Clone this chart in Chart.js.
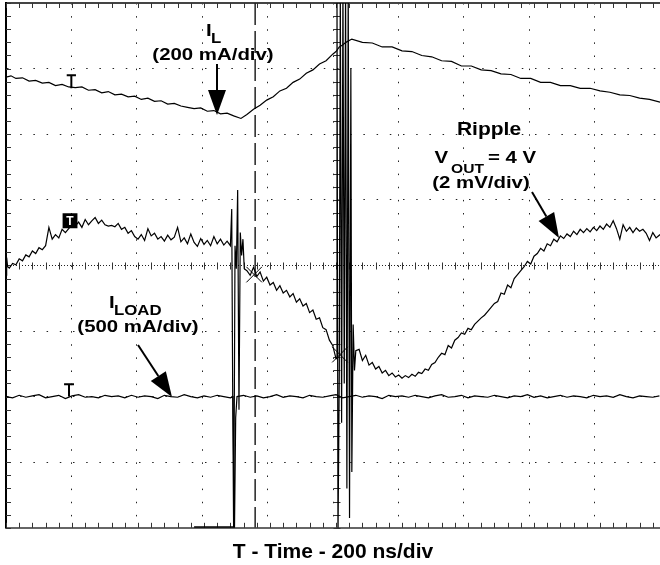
<!DOCTYPE html>
<html>
<head>
<meta charset="utf-8">
<title>Load transient - ripple</title>
<script src="https://cdn.jsdelivr.net/npm/chart.js@4.4.1/dist/chart.umd.min.js"></script>
<style>
  html, body { margin: 0; padding: 0; background: #fff; overflow: hidden; }
</style>
</head>
<body>
<canvas id="scope" width="660" height="565"></canvas>
<script>
/* ---------------------------------------------
   Scope capture: x in ns (200 ns/div), y in screen divisions (0 = bottom, 8 = top)
   --------------------------------------------- */

// I_L (200 mA/div)
const ilNs = [
  0, 15, 30, 50, 70, 90, 110, 130, 150, 170,
  190, 210, 230, 250, 270, 290, 310, 330, 350, 370,
  390, 410, 430, 450, 470, 490, 510, 530, 550, 570,
  590, 610, 630, 650, 670, 690, 712,
  730, 750, 770, 790, 810, 830, 850, 870, 890, 910,
  930, 950, 970, 990, 1000, 1010, 1020, 1030, 1048,
  1080, 1110, 1140, 1170, 1200, 1230, 1260, 1290, 1320, 1350,
  1380, 1410, 1440, 1470, 1500, 1530, 1560, 1590, 1620, 1650,
  1680, 1710, 1740, 1770, 1800, 1830, 1860, 1890, 1920, 1950, 1982
];
const ilDiv = [
  6.87, 6.89, 6.85, 6.86, 6.81, 6.82, 6.78, 6.79, 6.74, 6.76,
  6.72, 6.71, 6.72, 6.67, 6.68, 6.63, 6.65, 6.60, 6.61, 6.57,
  6.58, 6.53, 6.55, 6.50, 6.51, 6.46, 6.47, 6.43, 6.41, 6.39,
  6.40, 6.35, 6.36, 6.31, 6.32, 6.28, 6.24,
  6.30, 6.38, 6.44, 6.52, 6.57, 6.66, 6.70, 6.79, 6.84, 6.93,
  6.98, 7.07, 7.12, 7.22, 7.26, 7.33, 7.36, 7.40, 7.45,
  7.40, 7.39, 7.33, 7.33, 7.27, 7.26, 7.20, 7.18, 7.12, 7.11,
  7.04, 7.04, 6.98, 6.97, 6.92, 6.91, 6.85, 6.85, 6.79, 6.79,
  6.74, 6.74, 6.70, 6.70, 6.66, 6.64, 6.60, 6.59, 6.55, 6.53, 6.49
];

// Ripple, VOUT = 4 V (2 mV/div)
const rippleNs = [
  0, 2, 5,
  10, 20, 30, 40, 50, 60, 70, 80, 90,
  100, 110, 120, 130, 140, 150, 160, 170, 180, 190,
  200, 210, 220, 230, 240, 250, 260, 270, 280, 290,
  300, 310, 320, 330, 340, 350, 360, 370, 380, 390,
  400, 410, 420, 430, 440, 450, 460, 470, 480, 490,
  500, 510, 520, 530, 540, 550, 560, 570, 580, 590,
  600, 610, 620, 630, 640, 650, 660, 670, 680,
  684, 687, 690, 694, 698, 702, 706, 710, 714, 718, 722,
  730, 740, 750, 760, 770, 780, 790,
  800, 810, 820, 830, 840, 850, 860, 870, 880, 890,
  900, 910, 920, 930, 940, 950, 960, 970, 980, 990, 997,
  1000, 1003, 1006, 1010, 1013, 1017, 1021, 1025, 1029, 1033,
  1037, 1041, 1045, 1048, 1052, 1056, 1060,
  1070, 1080, 1090, 1100, 1110, 1120, 1130, 1140, 1150, 1160, 1170, 1180, 1190,
  1200, 1210, 1220, 1230, 1240, 1250, 1260, 1270, 1280, 1290,
  1300, 1310, 1320, 1330, 1340, 1350, 1360, 1370, 1380, 1390,
  1400, 1410, 1420, 1430, 1440, 1450, 1460, 1470, 1480, 1490,
  1500, 1510, 1520, 1530, 1540, 1550, 1560, 1570, 1580, 1590,
  1600, 1610, 1620, 1630, 1640, 1650, 1660, 1670, 1680, 1690,
  1700, 1710, 1720, 1730, 1740, 1750, 1760, 1770, 1780, 1790,
  1800, 1810, 1820, 1830, 1840, 1850, 1860, 1870, 1880, 1890,
  1900, 1910, 1920, 1930, 1940, 1950, 1960, 1970, 1982
];
const rippleDiv = [
  3.85, 4.12, 3.98,
  3.96, 4.03, 4.01, 4.10, 4.07, 4.16, 4.13, 4.22, 4.18,
  4.27, 4.24, 4.30, 4.58, 4.40, 4.47, 4.42, 4.55, 4.50, 4.56,
  4.62, 4.60, 4.66, 4.58, 4.70, 4.62, 4.68, 4.73, 4.64, 4.69,
  4.62, 4.60, 4.61, 4.59, 4.64, 4.55, 4.58, 4.49, 4.53, 4.44,
  4.40, 4.47, 4.38, 4.56, 4.45, 4.49, 4.40, 4.44, 4.37, 4.46,
  4.39, 4.43, 4.58, 4.36, 4.42, 4.33, 4.48, 4.35, 4.29, 4.41,
  4.32, 4.38, 4.30, 4.44, 4.33, 4.40, 4.31, 4.37, 4.30,
  4.86, 2.00, -0.20, 4.30, 3.95, 5.15, 1.80, 4.50, 4.15, 4.40, 3.95,
  3.92, 3.85, 3.97, 3.83, 3.90, 3.76, 3.82,
  3.70, 3.74, 3.62, 3.69, 3.58, 3.62, 3.52, 3.57, 3.44, 3.49,
  3.38, 3.42, 3.28, 3.32, 3.18, 3.20, 3.05, 3.02, 2.86, 2.78, 2.64,
  2.58, 8.30, -0.20, 2.40, 8.30, 1.60, 8.30, 2.20, 8.30, 0.60,
  8.30, 0.15, 7.00, 0.85, 3.10, 2.40, 2.70,
  2.72, 2.55, 2.63, 2.48, 2.52, 2.42, 2.46, 2.36, 2.40, 2.32, 2.36, 2.30, 2.33,
  2.28, 2.32, 2.29, 2.34, 2.31, 2.37, 2.35, 2.42, 2.40, 2.49,
  2.52, 2.60, 2.66, 2.64, 2.78, 2.74, 2.86, 2.90, 2.97, 2.95,
  3.04, 3.02, 3.10, 3.15, 3.20, 3.24, 3.30, 3.36, 3.42, 3.45,
  3.58, 3.56, 3.70, 3.66, 3.80, 3.86, 3.92, 3.98, 4.06, 4.02,
  4.14, 4.18, 4.26, 4.22, 4.33, 4.30, 4.40, 4.36, 4.45, 4.41,
  4.48, 4.44, 4.52, 4.47, 4.55, 4.50, 4.56, 4.51, 4.58, 4.53,
  4.60, 4.55, 4.63, 4.58, 4.68, 4.56, 4.40, 4.62, 4.52, 4.58,
  4.50, 4.57, 4.52, 4.55, 4.49, 4.38, 4.50, 4.42, 4.47
];

// I_LOAD (500 mA/div)
const iloadNs = [
  0, 20, 40, 60, 80, 100, 120, 140, 160, 180,
  200, 220, 240, 260, 280, 300, 320, 340, 360, 380,
  400, 420, 440, 460, 480, 500, 520, 540, 560, 580,
  600, 620, 640, 660, 680,
  688, 692, 696, 700,
  720, 740, 760, 780, 800, 820, 840, 860, 880, 900,
  920, 940, 960, 980, 1000, 1020, 1040, 1060, 1080, 1100,
  1120, 1140, 1160, 1180, 1200, 1220, 1240, 1260, 1280, 1300,
  1320, 1340, 1360, 1380, 1400, 1420, 1440, 1460, 1480, 1500,
  1520, 1540, 1560, 1580, 1600, 1620, 1640, 1660, 1680, 1700,
  1720, 1740, 1760, 1780, 1800, 1820, 1840, 1860, 1880, 1900,
  1920, 1940, 1960, 1980
];
const iloadDiv = [
  2.00, 1.98, 2.02, 1.99, 2.01, 2.03, 1.98, 2.00, 2.02, 1.97,
  2.01, 2.03, 1.99, 2.00, 1.98, 2.02, 2.00, 2.01, 1.98, 2.02,
  1.99, 2.01, 2.00, 1.97, 2.02, 2.00, 1.99, 2.03, 2.00, 1.98,
  2.01, 1.99, 2.02, 2.00, 1.98,
  2.00, -0.20, 1.68, 2.00,
  2.02, 1.99, 2.01, 1.98, 2.00, 2.03, 1.99, 2.01, 2.00, 1.98,
  2.02, 2.00, 1.99, 2.01, 2.03, 1.98, 2.00, 2.02, 1.99, 2.01,
  2.00, 1.97, 2.02, 2.00, 2.01, 1.99, 2.02, 2.00, 1.98, 2.01,
  2.03, 1.99, 2.00, 2.02, 1.98, 2.01, 2.00, 1.99, 2.02, 2.00,
  1.98, 2.01, 2.00, 2.03, 1.99, 2.01, 1.98, 2.00, 2.02, 1.99,
  2.01, 2.00, 1.98, 2.02, 2.00, 2.01, 1.99, 2.03, 2.00, 1.98,
  2.01, 2.00, 1.99, 2.01
];

// dashed cursor, clipped trace on the bottom edge
const cursorNs = [755, 755];
const cursorDiv = [8, 0];
const clipNs = [570, 688];
const clipDiv = [0, 0];

// channel reference markers and cursor crossings
const ilMarkNs = [184, 212, null, 198, 198];
const ilMarkDiv = [6.90, 6.90, null, 6.90, 6.70];
const loadMarkNs = [176, 206, null, 191, 191];
const loadMarkDiv = [2.19, 2.19, null, 2.19, 2.00];
const rippleMarkNs = [194];
const rippleMarkDiv = [4.68];
const crossNs = [752, 1012];
const crossDiv = [3.86, 2.64];

const xTitle = "T - Time - 200 ns/div";

/* ---------------------------------------------
   helpers
   --------------------------------------------- */
const FONT = '"Liberation Sans", Arial, Helvetica, sans-serif';
const pts = (xs, ys) => xs.map((x, i) => ({ x: x, y: ys[i] }));

function trace(xs, ys, width, extra) {
  return Object.assign({
    data: pts(xs, ys),
    borderColor: "#000",
    backgroundColor: "#000",
    borderWidth: width,
    pointRadius: 0,
    tension: 0,
    fill: false
  }, extra || {});
}

// text a bit wider than plain Arial, like the scope printout
function wideText(ctx, str, x, y, size, align) {
  ctx.save();
  ctx.font = "bold " + size + "px " + FONT;
  ctx.textAlign = align || "left";
  ctx.textBaseline = "alphabetic";
  ctx.fillStyle = "#000";
  ctx.translate(x, y);
  ctx.scale(1.2, 1);
  ctx.fillText(str, 0, 0);
  ctx.restore();
}

function arrow(ctx, x0, y0, x1, y1) {
  const head = 25, half = 9;
  const a = Math.atan2(y1 - y0, x1 - x0);
  const bx = x1 - head * Math.cos(a), by = y1 - head * Math.sin(a);
  ctx.save();
  ctx.strokeStyle = "#000";
  ctx.fillStyle = "#000";
  ctx.lineWidth = 2;
  ctx.beginPath();
  ctx.moveTo(x0, y0);
  ctx.lineTo(bx, by);
  ctx.stroke();
  ctx.beginPath();
  ctx.moveTo(x1, y1);
  ctx.lineTo(bx + half * Math.sin(a), by - half * Math.cos(a));
  ctx.lineTo(bx - half * Math.sin(a), by + half * Math.cos(a));
  ctx.closePath();
  ctx.fill();
  ctx.restore();
}

/* ---------------------------------------------
   plugins: minor ticks on centre lines / edges, annotations
   --------------------------------------------- */
const scopeTicks = {
  id: "scopeTicks",
  beforeDatasetsDraw(chart) {
    const { ctx, chartArea: a, scales: { x, y } } = chart;
    const cx = Math.round(x.getPixelForValue(1000)) + 0.5;
    const cy = Math.round(y.getPixelForValue(4)) + 0.5;
    ctx.save();
    ctx.strokeStyle = "#333";
    ctx.lineWidth = 1;
    ctx.beginPath();
    for (let k = 0; k <= 50; k++) {
      const px = Math.round(x.getPixelForValue(k * 40)) + 0.5;
      if (px > a.right) break;
      ctx.moveTo(px, cy - 3); ctx.lineTo(px, cy + 4);
      ctx.moveTo(px, a.top); ctx.lineTo(px, a.top + 5);
      ctx.moveTo(px, a.bottom - 5); ctx.lineTo(px, a.bottom);
    }
    for (let k = 0; k <= 40; k++) {
      const py = Math.round(y.getPixelForValue(k / 5)) + 0.5;
      ctx.moveTo(cx - 3, py); ctx.lineTo(cx + 4, py);
      ctx.moveTo(a.left, py); ctx.lineTo(a.left + 5, py);
    }
    ctx.stroke();
    ctx.restore();
  }
};

const scopeNotes = {
  id: "scopeNotes",
  afterDatasetsDraw(chart) {
    const { ctx, scales: { x, y } } = chart;

    // white T inside the ripple channel marker
    ctx.save();
    ctx.font = "bold 12px " + FONT;
    ctx.fillStyle = "#fff";
    ctx.textAlign = "center";
    ctx.textBaseline = "middle";
    ctx.fillText("T", x.getPixelForValue(rippleMarkNs[0]), y.getPixelForValue(rippleMarkDiv[0]) + 1);
    ctx.restore();

    // I_L
    wideText(ctx, "I", 206, 36, 17);
    wideText(ctx, "L", 211, 43, 14);
    wideText(ctx, "(200 mA/div)", 213, 60, 17, "center");
    arrow(ctx, 217, 64, 217, 115);

    // Ripple
    wideText(ctx, "Ripple", 489, 135, 17.5, "center");
    wideText(ctx, "V", 434.5, 163, 17);
    wideText(ctx, "OUT", 451, 173, 13);
    wideText(ctx, "= 4 V", 488, 163, 17);
    wideText(ctx, "(2 mV/div)", 481, 188, 17, "center");
    arrow(ctx, 532, 192, 559, 238);

    // I_LOAD
    wideText(ctx, "I", 109, 308, 17);
    wideText(ctx, "LOAD", 114, 315, 14);
    wideText(ctx, "(500 mA/div)", 138, 332, 17, "center");
    arrow(ctx, 138, 345, 172, 397);
  }
};

/* ---------------------------------------------
   chart
   --------------------------------------------- */
new Chart(document.getElementById("scope"), {
  type: "line",
  data: {
    datasets: [
      trace(ilNs, ilDiv, 1.2),
      trace(rippleNs, rippleDiv, 1.2),
      trace(iloadNs, iloadDiv, 1.2),
      trace(cursorNs, cursorDiv, 1.5, { borderColor: "#222", borderDash: [22, 6] }),
      trace(clipNs, clipDiv, 3),
      trace(ilMarkNs, ilMarkDiv, 2),
      trace(loadMarkNs, loadMarkDiv, 2),
      trace(rippleMarkNs, rippleMarkDiv, 0, { showLine: false, pointRadius: 10.5, pointStyle: "rect" }),
      trace(crossNs, crossDiv, 1, { showLine: false, pointRadius: 11, pointStyle: "crossRot", pointBorderWidth: 1 })
    ]
  },
  options: {
    responsive: false,
    animation: false,
    layout: { autoPadding: false, padding: { left: 6, top: 3, right: 0, bottom: 0 } },
    plugins: { legend: { display: false }, tooltip: { enabled: false } },
    scales: {
      x: {
        type: "linear",
        min: 0,
        max: 1981.8,
        ticks: { display: false, stepSize: 200, includeBounds: false },
        grid: { color: "#222", lineWidth: 1, drawTicks: false },
        border: {
          display: true, color: "#666", width: 2,
          dash: c => (c.tick && c.tick.value === 1000) ? [1, 2] : [1.5, 11.625]
        },
        title: {
          display: true,
          text: xTitle,
          color: "#000",
          font: { family: FONT, size: 21, weight: "bold" },
          padding: { top: 12, bottom: 0 }
        }
      },
      x2: {
        type: "linear",
        position: "top",
        ticks: { display: false },
        grid: { display: false, drawTicks: false },
        border: { display: true, color: "#444", width: 2 }
      },
      y: {
        min: 0,
        max: 8,
        ticks: { display: false, stepSize: 1 },
        grid: { color: "#222", lineWidth: 1, drawTicks: false },
        border: {
          display: true, color: "#000", width: 2,
          dash: c => (c.tick && c.tick.value === 4) ? [1, 2] : [1.5, 11.7]
        }
      }
    }
  },
  plugins: [scopeTicks, scopeNotes]
});
</script>
</body>
</html>
